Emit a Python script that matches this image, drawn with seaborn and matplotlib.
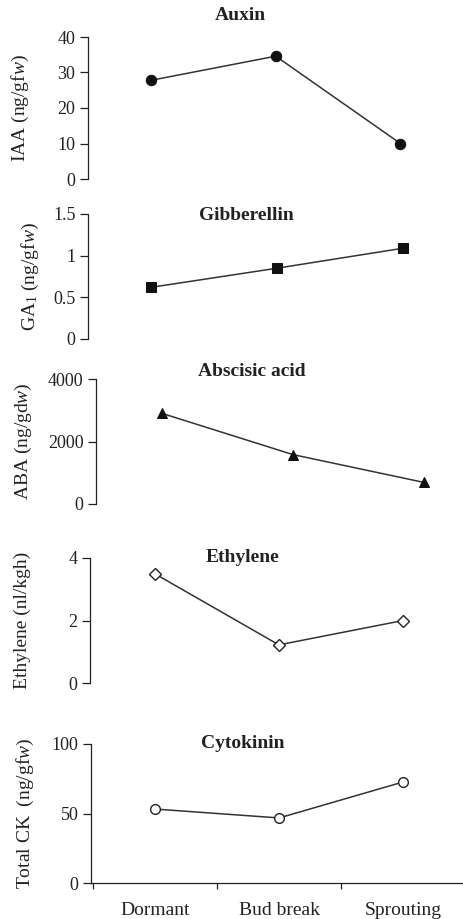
import matplotlib
matplotlib.use("Agg")
import matplotlib.pyplot as plt
import seaborn as sns
import pandas as pd

# ---------------- data ----------------
stages = ["Dormant", "Bud break", "Sprouting"]
auxin = [27.8, 34.6, 10.0]
gibberellin = [0.62, 0.85, 1.09]
aba = [2900, 1580, 690]
ethylene = [3.5, 1.22, 2.0]
cytokinin = [53.2, 46.8, 72.7]

titles = ["Auxin", "Gibberellin", "Abscisic acid", "Ethylene", "Cytokinin"]
ylabels = [r"IAA (ng/gf$\mathit{w}$)", r"GA$_1$ (ng/gf$\mathit{w}$)",
           r"ABA (ng/gd$\mathit{w}$)", "Ethylene (nl/kgh)",
           r"Total CK  (ng/gf$\mathit{w}$)"]
yticks = [[0, 10, 20, 30, 40], [0, 0.5, 1, 1.5], [0, 2000, 4000], [0, 2, 4], [0, 50, 100]]
ytick_labels = [["0", "10", "20", "30", "40"], ["0", "0.5", "1", "1.5"],
                ["0", "2000", "4000"], ["0", "2", "4"], ["0", "50", "100"]]
series = [auxin, gibberellin, aba, ethylene, cytokinin]

# ---------------- style ----------------
sns.set_style("ticks")
plt.rcParams["font.family"] = ["Liberation Serif", "DejaVu Serif"]
plt.rcParams["mathtext.fontset"] = "custom"
plt.rcParams["mathtext.rm"] = "Liberation Serif"
plt.rcParams["mathtext.it"] = "Liberation Serif:italic"
plt.rcParams["mathtext.bf"] = "Liberation Serif:bold"

W, H = 464, 919
fig = plt.figure(figsize=(W / 100, H / 100), dpi=100)
fig.patch.set_facecolor("white")

# layout in pixels: left, top, right, bottom
boxes = [(88, 37, 464, 179), (88, 214, 464, 339), (96, 379, 464, 504),
         (90, 558, 464, 683), (91, 744, 464, 883)]
xlims = [(-0.506, 2.51), (-0.5, 2.48), (-0.504, 2.305), (-0.52, 2.49), (-0.516, 2.49)]
title_pos = [(240, 15), (246, 216), (252, 372), (243, 558), (243, 743)]
ylabel_x = [20, 30, 23, 22, 25]
markers = [
    dict(marker="o", markersize=7.5, markerfacecolor="#111111", markeredgecolor="#111111"),
    dict(marker="s", markersize=7.0, markerfacecolor="#111111", markeredgecolor="#111111"),
    dict(marker="^", markersize=7.5, markerfacecolor="#111111", markeredgecolor="#111111"),
    dict(marker="D", markersize=6.5, markerfacecolor="white", markeredgecolor="#222222", markeredgewidth=1.0),
    dict(marker="o", markersize=7.0, markerfacecolor="white", markeredgecolor="#222222", markeredgewidth=1.0),
]

for i in range(5):
    l, t, r, b = boxes[i]
    ax = fig.add_axes([l / W, 1 - b / H, (r - l) / W, (b - t) / H])
    ax.set_facecolor("none")
    df = pd.DataFrame({"stage": stages, "value": series[i]})
    sns.lineplot(data=df, x="stage", y="value", ax=ax, sort=False, errorbar=None,
                 color="#333333", linewidth=1.1, **markers[i])
    ax.set_xlim(*xlims[i])
    ax.set_ylim(0, yticks[i][-1])
    ax.set_yticks(yticks[i])
    ax.set_yticklabels(ytick_labels[i])
    ax.tick_params(axis="y", direction="out", length=6, width=0.9, pad=3,
                   labelsize=13, colors="#222222")
    for s in ["top", "right"]:
        ax.spines[s].set_visible(False)
    ax.spines["left"].set_linewidth(0.9)
    ax.spines["left"].set_color("#222222")
    ax.set_ylabel(ylabels[i], fontsize=14, color="#222222")
    ax.yaxis.label.set_verticalalignment("center")
    ax.yaxis.set_label_coords((ylabel_x[i] - l) / (r - l), 0.5)
    ax.set_xlabel("")
    if i < 4:
        ax.spines["bottom"].set_visible(False)
        ax.set_xticks([])
    else:
        ax.spines["bottom"].set_linewidth(0.9)
        ax.spines["bottom"].set_color("#222222")
        ax.set_xticks(range(len(stages)))
        ax.set_xticklabels(stages)
        ax.set_xticks([-0.5, 0.5, 1.5], minor=True)
        ax.tick_params(axis="x", which="major", length=0, pad=14, labelsize=14, colors="#222222")
        ax.tick_params(axis="x", which="minor", direction="out", length=4, width=0.9, color="#222222")
    tx, ty = title_pos[i]
    fig.text(tx / W, 1 - ty / H, titles[i], ha="center", va="center",
             fontsize=14, fontweight="bold", color="#222222")

fig.savefig("out.png", dpi=100, facecolor="white")
